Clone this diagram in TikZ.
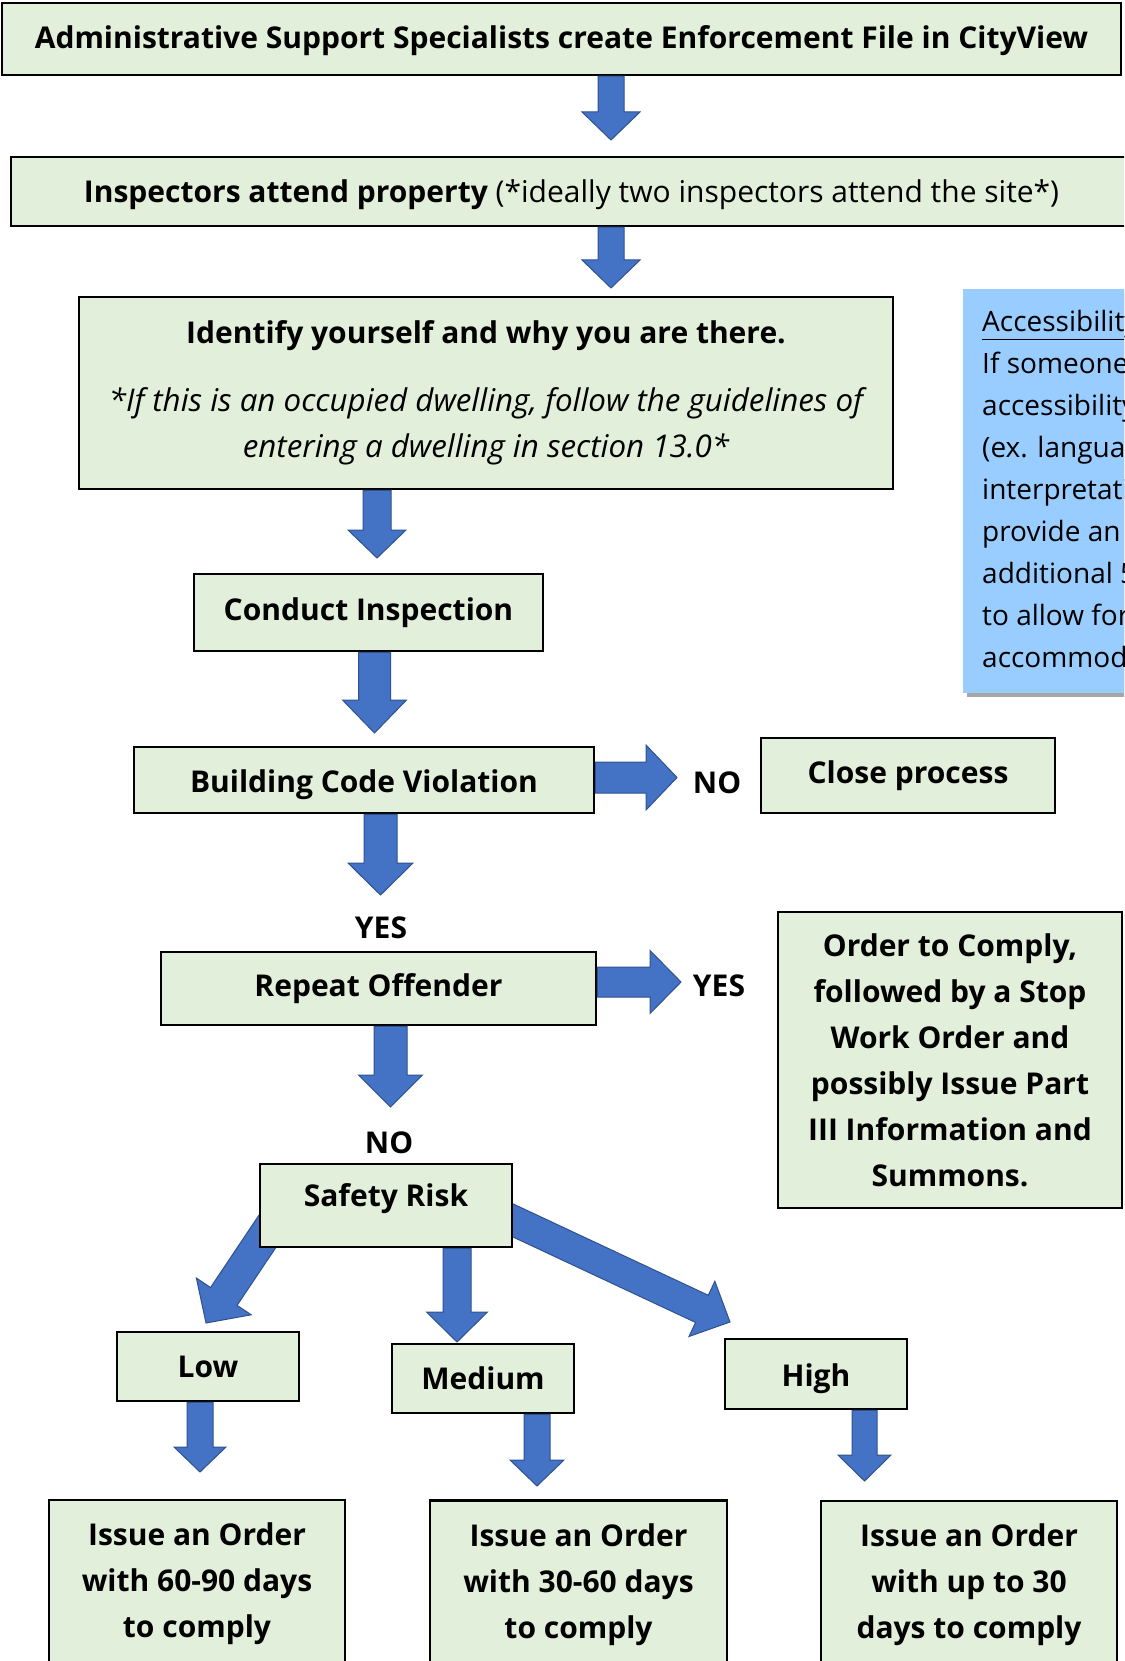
\documentclass[tikz,border=0pt]{standalone}
\usepackage{fontspec}
\setmainfont{Open Sans}
\usetikzlibrary{calc}
\definecolor{boxgreen}{HTML}{E2EFDA}
\definecolor{arrblue}{HTML}{4472C4}
\definecolor{arrdark}{HTML}{2F528F}
\definecolor{accblue}{HTML}{99CCFF}
\definecolor{shadowgray}{HTML}{A6A6A6}
% block arrow: start, tip, half shaft, half head, head length
\newcommand\blockarrow[5]{%
  \filldraw[arr] let \p1=(#1), \p2=(#2), \n1={atan2(\y2-\y1,\x2-\x1)} in
    ($(\p1)+(\n1+90:#3)$) --
    ($(\p2)+(\n1+180:#5)+(\n1+90:#3)$) --
    ($(\p2)+(\n1+180:#5)+(\n1+90:#4)$) --
    (\p2) --
    ($(\p2)+(\n1+180:#5)+(\n1-90:#4)$) --
    ($(\p2)+(\n1+180:#5)+(\n1-90:#3)$) --
    ($(\p1)+(\n1-90:#3)$) -- cycle;}
\begin{document}
\begin{tikzpicture}[x=1pt,y=-1pt,
  box/.style={draw=black, line width=2.5pt, fill=boxgreen, inner sep=0pt, align=center,
    font=\bfseries\fontsize{30}{46}\selectfont},
  arr/.style={fill=arrblue, draw=arrdark, line width=1pt, line join=miter},
  lbl/.style={font=\bfseries\fontsize{30}{36}\selectfont, inner sep=0pt},
  acc/.style={font=\fontsize{28}{30}\selectfont, anchor=base west, inner sep=0pt}]
\useasboundingbox (0,0) rectangle (1124,1661);
\begin{scope}
\clip (0,0) rectangle (1124,1661);
% coordinates for arrows
\coordinate (t1) at (611,140);
\coordinate (t2) at (611,288);
\coordinate (t3) at (377,558);
\coordinate (t4) at (374.5,733);
\coordinate (t5) at (380.5,895);
\coordinate (t6) at (390.5,1107);
\coordinate (r1) at (677,777.5);
\coordinate (r2) at (681,982);
\coordinate (sl) at (273,1223);
\coordinate (tl) at (206,1323);
\coordinate (tm) at (457,1342);
\coordinate (sh) at (495,1212);
\coordinate (th) at (730,1322);
\coordinate (tlo) at (200,1472);
\coordinate (tme) at (537,1486);
\coordinate (thi) at (864.5,1481);
% boxes
\path
  (561.5,39) node[box, minimum width=1119pt, minimum height=72pt] (b1) {}
  (571.5,191.5) node[box, minimum width=1121pt, minimum height=69pt] (b2) {}
  (486,393) node[box, minimum width=814pt, minimum height=192pt] (b3)
     {Identify yourself and why you are there.\\[22pt]
      {\mdseries\itshape\fontsize{31.3}{46}\selectfont *If this is an occupied dwelling, follow the guidelines of}\\
      {\mdseries\itshape\fontsize{31.3}{46}\selectfont entering a dwelling in section 13.0*}}
  (368.5,612.5) node[box, minimum width=349pt, minimum height=77pt] (b4) {Conduct Inspection}
  (364,780) node[box, minimum width=460pt, minimum height=66pt] (b5) {}
  (908,775.5) node[box, minimum width=294pt, minimum height=75pt] (close) {Close process}
  (378.5,988.5) node[box, minimum width=435pt, minimum height=73pt] (b6) {Repeat Offender}
  (950,1060) node[box, minimum width=344pt, minimum height=296pt] (order)
     {Order to Comply,\\followed by a Stop\\Work Order and\\possibly Issue Part\\III Information and\\Summons.}
  (386,1205.5) node[box, minimum width=252pt, minimum height=83pt] (b7) {}
  (208,1366.5) node[box, minimum width=182pt, minimum height=69pt] (low) {Low}
  (483,1378.5) node[box, minimum width=182pt, minimum height=69pt] (med) {Medium}
  (816,1374) node[box, minimum width=182pt, minimum height=70pt] (high) {}
  (197,1584) node[box, minimum width=296pt, minimum height=168pt] (i1) {Issue an Order\\with 60-90 days\\to comply}
  (578.5,1584.5) node[box, minimum width=297pt, minimum height=168pt] (i2) {Issue an Order\\with 30-60 days\\to comply}
  (969,1585) node[box, minimum width=296pt, minimum height=168pt] (i3) {Issue an Order\\with up to 30\\days to comply};
% texts of boxes whose words hang below the line
\node[lbl] (b1t) at (561.5,41) {Administrative Support Specialists create Enforcement File in CityView};
\node[lbl, font=\fontsize{30}{36}\selectfont] (b2t) at (571.5,195)
     {\textbf{Inspectors attend property} (*ideally two inspectors attend the site*)};
\node[lbl] (b5t) at (364,785) {Building Code Violation};
\node[lbl] (hight) at (816,1379) {High};
% arrows
\blockarrow{b1.south -| t1}{t1}{13pt}{29pt}{28pt}
\blockarrow{b2.south -| t2}{t2}{13pt}{29pt}{28pt}
\blockarrow{b3.south -| t3}{t3}{14pt}{29pt}{28pt}
\blockarrow{b4.south -| t4}{t4}{16pt}{32pt}{33pt}
\blockarrow{b5.east |- r1}{r1}{15.5pt}{32.5pt}{31pt}
\blockarrow{b5.south -| t5}{t5}{16.5pt}{32.5pt}{32pt}
\blockarrow{b6.east |- r2}{r2}{15pt}{31.5pt}{31pt}
\blockarrow{b6.south -| t6}{t6}{16.5pt}{32pt}{32pt}
\blockarrow{sl}{tl}{16pt}{33pt}{32pt}
\blockarrow{b7.south -| tm}{tm}{14pt}{30.5pt}{30pt}
\blockarrow{sh}{th}{15pt}{30.5pt}{31pt}
\blockarrow{low.south -| tlo}{tlo}{13pt}{26pt}{25pt}
\blockarrow{med.south -| tme}{tme}{13pt}{27pt}{26pt}
\blockarrow{high.south -| thi}{thi}{12.5pt}{26.5pt}{26pt}
% safety risk box on top of the diagonal arrows
\node[box, minimum width=252pt, minimum height=83pt] (b7top) at (b7) {};
\node[lbl] (srisk) at (386,1199) {Safety Risk};
% labels
\node[lbl] (no1) at (717,783) {NO};
\node[lbl] (yes1) at (381,928) {YES};
\node[lbl] (yes2) at (719,986) {YES};
\node[lbl] (no2) at (389,1143) {NO};
% accessibility note
\fill[shadowgray] (967,293) rectangle (1140,697);
\fill[accblue] (963,289) rectangle (1140,693);
\node[acc] (acc0) at (982,331) {\underline{Accessibility}};
\node[acc] (acc1) at (982,373) {If someone requires};
\node[acc] (acc2) at (982,415) {accessibility supports};
\node[acc] (acc3) at (982,457) {(ex. language};
\node[acc] (acc4) at (982,499) {interpretation),};
\node[acc] (acc5) at (982,541) {provide an};
\node[acc] (acc6) at (982,583) {additional 5 days};
\node[acc] (acc7) at (982,625) {to allow for};
\node[acc] (acc8) at (982,667) {accommodation.};
\end{scope}
\end{tikzpicture}
\end{document}
